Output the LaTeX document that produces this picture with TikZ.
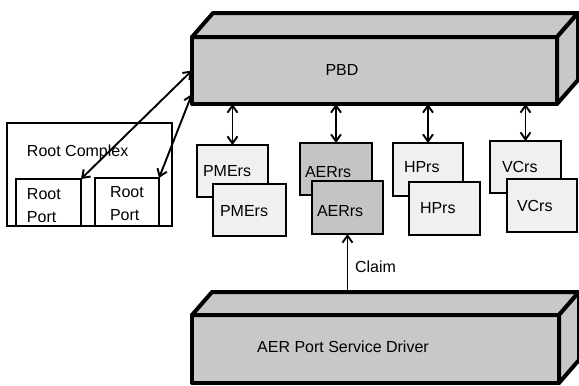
\documentclass[tikz,border=0pt]{standalone}
\usepackage{fontspec}
\setmainfont{Liberation Sans}
\usetikzlibrary{arrows.meta,calc}
\definecolor{boxgray}{HTML}{C8C8C8}
\definecolor{aergray}{HTML}{C4C4C4}
\definecolor{lightbox}{HTML}{F0F0F0}
\begin{document}
\begin{tikzpicture}[x=1pt,y=-1pt,
  every node/.style={inner sep=0pt,outer sep=0pt,font=\fontsize{16}{23}\selectfont},
  bigbox/.style={draw,fill=boxgray,line width=4pt,line join=round},
  face/.style={draw,fill=boxgray,line width=4pt,line join=round},
  smallbox/.style={draw,fill=lightbox,line width=2.2pt},
  aerbox/.style={draw,fill=aergray,line width=2.2pt},
  plainbox/.style={draw,fill=white,line width=2.2pt},
  lbl/.style={anchor=west},
  link/.style={line width=1.9pt,{Straight Barb[length=7pt,width=10pt]}-{Straight Barb[length=7pt,width=10pt]}},
  uplink/.style={line width=1.9pt,-{Straight Barb[length=7pt,width=10pt]}}]
\useasboundingbox (0,0) rectangle (579,386);

% PBD 3D box
\node[bigbox,minimum width=365pt,minimum height=67pt] (pbd) at (374.5,70.5) {};
\draw[face] (pbd.north west) -- ($(pbd.north west)+(21,-24)$) -- ($(pbd.north east)+(21,-24)$) -- (pbd.north east) -- cycle;
\draw[face] (pbd.north east) -- ($(pbd.north east)+(21,-24)$) -- ($(pbd.south east)+(21,-24)$) -- (pbd.south east) -- cycle;
\node (pbdtext) at (342,70) {PBD};

% AER Port Service Driver 3D box
\node[bigbox,minimum width=367pt,minimum height=68pt] (drv) at (375.5,349) {};
\draw[face] (drv.north west) -- ($(drv.north west)+(20,-23)$) -- ($(drv.north east)+(20,-23)$) -- (drv.north east) -- cycle;
\draw[face] (drv.north east) -- ($(drv.north east)+(20,-23)$) -- ($(drv.south east)+(20,-23)$) -- (drv.south east) -- cycle;
\coordinate (drvback) at ($(drv.north west)+(20,-23)$);
\node (drvtext) at (343,347) {AER Port Service Driver};

% Root Complex
\node[plainbox,minimum width=165pt,minimum height=103pt] (rc) at (89.5,174.5) {};
\node[lbl] (rctext) at (27,152) {Root Complex};
\node[plainbox,minimum width=65pt,minimum height=47pt] (rp1) at (48.5,202.5) {};
\node[plainbox,minimum width=64pt,minimum height=48pt] (rp2) at (127,202) {};
\node[lbl,align=left] (rp1text) at (27,205.5) {Root\\Port};
\node[lbl,align=left] (rp2text) at (110,204) {Root\\Port};

% Resource boxes
\node[smallbox,minimum width=71pt,minimum height=52pt] (pmeA) at (232.5,171) {};
\node[smallbox,minimum width=73pt,minimum height=52pt] (pmeB) at (249.5,210) {};
\node[lbl] at (203,171) {PMErs};
\node[lbl] at (220,211) {PMErs};

\node[aerbox,minimum width=72pt,minimum height=52pt] (aerA) at (336,169) {};
\node[aerbox,minimum width=71pt,minimum height=53pt] (aerB) at (347.5,207.5) {};
\node[lbl] at (305,172) {AERrs};
\node[lbl] at (317,211) {AERrs};

\node[smallbox,minimum width=70pt,minimum height=53pt] (hpA) at (428,169.5) {};
\node[smallbox,minimum width=71pt,minimum height=53pt] (hpB) at (444.5,208.5) {};
\node[lbl] at (404,167) {HPrs};
\node[lbl] at (420,208) {HPrs};

\node[smallbox,minimum width=71pt,minimum height=52pt] (vcA) at (525.5,167) {};
\node[smallbox,minimum width=70pt,minimum height=53pt] (vcB) at (542,205.5) {};
\node[lbl] at (502,167) {VCrs};
\node[lbl] at (517,206) {VCrs};

% connectors
\draw[link] (pbd.south -| pmeA.north) -- (pmeA.north);
\draw[link] (pbd.south -| aerA.north) -- (aerA.north);
\draw[link] (pbd.south -| hpA.north) -- (hpA.north);
\draw[link] (pbd.south -| vcA.north) -- (vcA.north);

\draw[link] (pbd.west) -- (rp1.north east);
\draw[link] ($(pbd.south west)+(0,-10)$) -- (rp2.north east);

\draw[uplink] (aerB.south |- drvback) -- (aerB.south);
\node[lbl] (claim) at (355,267) {Claim};
\end{tikzpicture}
\end{document}
